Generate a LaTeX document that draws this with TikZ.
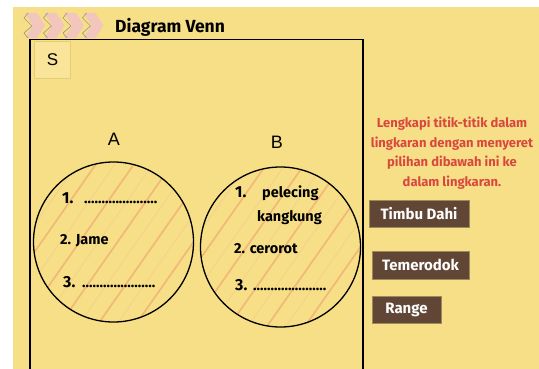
\documentclass[tikz,border=0pt]{standalone}
\usepackage{fontspec}
\setmainfont{Fira Sans}
\setsansfont{Liberation Sans}
\definecolor{bgyel}{HTML}{F7DF88}
\definecolor{sbox}{HTML}{F9E49A}
\definecolor{sline}{HTML}{E6CC78}
\definecolor{chev}{HTML}{F2C6BC}
\definecolor{chevline}{HTML}{A09A88}
\definecolor{stripe}{HTML}{EFA870}
\definecolor{stripelt}{HTML}{F1C88A}
\definecolor{btn}{HTML}{614636}
\definecolor{btnline}{HTML}{9C8A5A}
\definecolor{redtxt}{HTML}{D9483E}
\tikzset{
  hand/.style={font=\bfseries\fontsize{14.5}{14.5}\selectfont, anchor=base west, inner sep=0pt},
  handbig/.style={font=\bfseries\fontsize{16}{16}\selectfont, anchor=base west, inner sep=0pt},
  btnbox/.style={draw=btnline, line width=0.8pt, fill=btn},
  btntext/.style={text=white, font=\bfseries\fontsize{15}{15}\selectfont},
  circ/.style={draw=black, line width=1.3pt},
}
\begin{document}
\begin{tikzpicture}[x=1pt,y=-1pt]
\useasboundingbox (0,0) rectangle (539,369);
\fill[white] (0,0) rectangle (539,369);
\fill[bgyel] (13,7) rectangle (539,369);
% chevrons
\foreach \x in {25,44.5,64,83.5}{
  \fill[chev] (\x,13) -- (\x+12,13) -- (\x+20,25.5) -- (\x+12,38) -- (\x,38) -- (\x+8,25.5) -- cycle;
  \draw[chevline, line width=0.7pt] (\x+3,13) -- (\x-1,18) -- (\x+7,26) -- (\x-1,33) -- (\x+3,38);
}
\node[font=\bfseries\fontsize{17.5}{17.5}\selectfont, anchor=base west, inner sep=0pt] (title) at (115,33) {Diagram Venn};
% universe rectangle
\draw[black, line width=1.5pt] (30,375) -- (30,39.5) -- (363,39.5) -- (363,375);
\node[draw=sline, fill=sbox, line width=0.8pt, minimum width=36pt, minimum height=37pt, inner sep=0pt, font=\sffamily\fontsize{17}{17}\selectfont] (S) at (52.5,60) {S};
\node[font=\sffamily\fontsize{18}{18}\selectfont] (labA) at (114,139) {A};
\node[font=\sffamily\fontsize{18}{18}\selectfont] (labB) at (277,142) {B};
% circles with stripes
\foreach \cx/\cy in {113.5/242, 280.5/247}{
  \begin{scope}
    \clip (\cx,\cy) circle (80);
    \foreach \i in {-300,-262,...,300}{
      \draw[stripe, line width=1.7pt, opacity=0.7] (\cx+\i-70,\cy+100) -- (\cx+\i+70,\cy-100);
      \draw[stripelt, line width=0.8pt, opacity=0.6] (\cx+\i-51,\cy+100) -- (\cx+\i+89,\cy-100);
    }
  \end{scope}
}
\node[circ, circle, minimum size=160pt, inner sep=0pt] (cA) at (113.5,242) {};
\node[circ, circle, minimum size=160pt, inner sep=0pt] (cB) at (280.5,247) {};
% texts in A
\node[handbig] (a1) at (62,203) {1.};
\node[hand] (a1d) at (84,203) {.....................};
\node[hand] (a2) at (60,244) {2. Jame};
\node[handbig] (a3) at (63,287) {3.};
\node[hand] (a3d) at (82,287) {.....................};
% texts in B
\node[handbig] (b1) at (235,197) {1.};
\node[hand] (b1t) at (262,197) {pelecing};
\node[hand] (b1u) at (257,221) {kangkung};
\node[hand] (b2) at (234,253) {2. cerorot};
\node[handbig] (b3) at (235,290) {3.};
\node[hand] (b3d) at (253,290) {.....................};
% instructions
\node[text=redtxt, align=center, font=\bfseries\fontsize{13}{19.5}\selectfont] (instr) at (452,153) {Lengkapi titik-titik dalam\\lingkaran dengan menyeret\\pilihan dibawah ini ke\\dalam lingkaran.};
% buttons
\draw[btnbox] (369,200.5) rectangle (469,227);
\node[btntext] (t1) at (419,214) {Timbu Dahi};
\draw[btnbox] (372,251) rectangle (469,279);
\node[btntext] (t2) at (420.5,265) {Temerodok};
\draw[btnbox] (372,296) rectangle (441,323);
\node[btntext] (t3) at (406.5,309.5) {Range};
\end{tikzpicture}
\end{document}
